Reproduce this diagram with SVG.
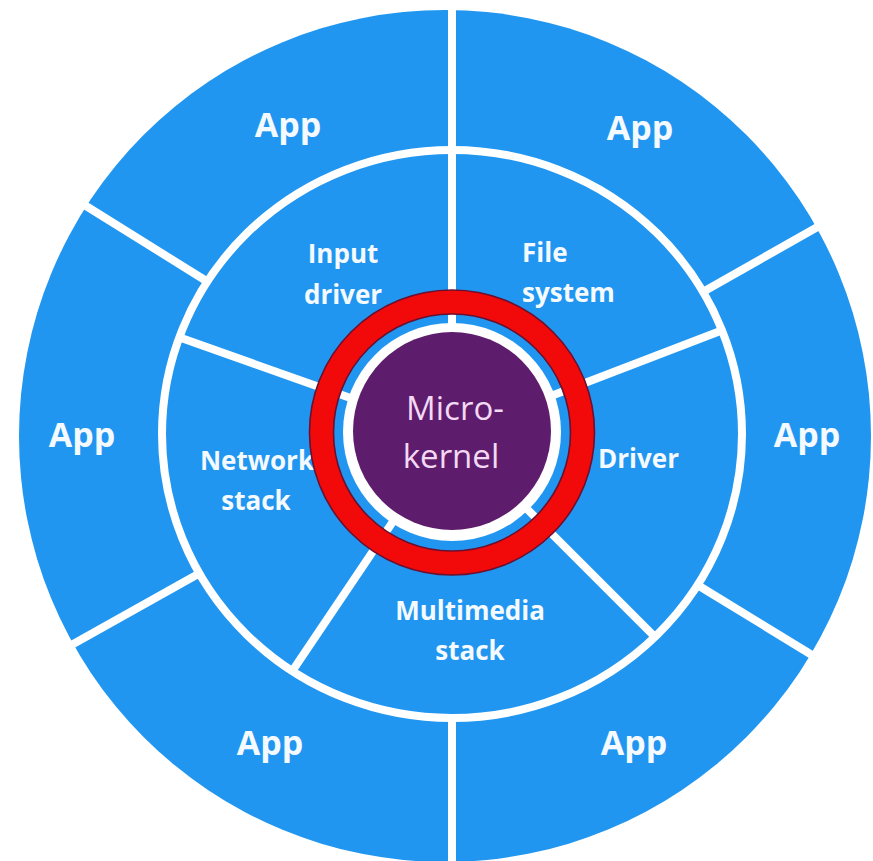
<svg xmlns="http://www.w3.org/2000/svg" width="873" height="861" viewBox="0 0 873 861">
  <style>
    .seg { fill: #2196F0; }
    .lbl { font-family: "Open Sans", "Liberation Sans", sans-serif; font-weight: bold; fill: #F4FAFF; }
    .app { font-size: 34px; text-anchor: middle; }
    .mid { font-size: 26px; }
    .c { text-anchor: middle; }
    .div { stroke: #FFFFFF; stroke-width: 8; fill: none; }
    .kern { font-family: "Open Sans", "Liberation Sans", sans-serif; font-size: 33px; fill: #F3D9F3; text-anchor: middle; }
  </style>
  <defs>
    <clipPath id="outerDisk"><circle cx="445" cy="436" r="426"/></clipPath>
    <clipPath id="innerDisk"><ellipse cx="452" cy="434" rx="291" ry="285"/></clipPath>
  </defs>
  <rect width="873" height="861" fill="#FFFFFF"/>

  <!-- outer ring: App segments -->
  <g id="app-top-right" clip-path="url(#outerDisk)">
    <path class="seg" d="M452,434 L452,-566 L1322.4,-58.4 Z"/>
    <text class="lbl app" x="640" y="140">App</text>
  </g>
  <g id="app-right" clip-path="url(#outerDisk)">
    <path class="seg" d="M452,434 L1322.4,-58.4 L1304.6,956.5 Z"/>
    <text class="lbl app" x="807" y="447">App</text>
  </g>
  <g id="app-bottom-right" clip-path="url(#outerDisk)">
    <path class="seg" d="M452,434 L1304.6,956.5 L452,1434 Z"/>
    <text class="lbl app" x="634" y="755">App</text>
  </g>
  <g id="app-bottom-left" clip-path="url(#outerDisk)">
    <path class="seg" d="M452,434 L452,1434 L-422.6,918.8 Z"/>
    <text class="lbl app" x="270" y="755">App</text>
  </g>
  <g id="app-left" clip-path="url(#outerDisk)">
    <path class="seg" d="M452,434 L-422.6,918.8 L-396,-95.9 Z"/>
    <text class="lbl app" x="82" y="447">App</text>
  </g>
  <g id="app-top-left" clip-path="url(#outerDisk)">
    <path class="seg" d="M452,434 L-396,-95.9 L452,-566 Z"/>
    <text class="lbl app" x="288" y="137">App</text>
  </g>

  <!-- middle ring: services -->
  <g id="file-system" clip-path="url(#innerDisk)">
    <path class="seg" d="M452,434 L452,-566 L1385.6,75.6 Z"/>
    <text class="lbl mid" x="522" y="262">File</text>
    <text class="lbl mid" x="522" y="302">system</text>
  </g>
  <g id="driver" clip-path="url(#innerDisk)">
    <path class="seg" d="M452,434 L1385.6,75.6 L1159.1,1141.1 Z"/>
    <text class="lbl mid" x="598" y="468">Driver</text>
  </g>
  <g id="multimedia-stack" clip-path="url(#innerDisk)">
    <path class="seg" d="M452,434 L1159.1,1141.1 L-107.2,1263 Z"/>
    <text class="lbl mid c" x="470" y="620">Multimedia</text>
    <text class="lbl mid c" x="470" y="660">stack</text>
  </g>
  <g id="network-stack" clip-path="url(#innerDisk)">
    <path class="seg" d="M452,434 L-107.2,1263 L-490.6,100.2 Z"/>
    <text class="lbl mid c" x="257" y="470">Network</text>
    <text class="lbl mid c" x="256" y="510">stack</text>
  </g>
  <g id="input-driver" clip-path="url(#innerDisk)">
    <path class="seg" d="M452,434 L-490.6,100.2 L452,-566 Z"/>
    <text class="lbl mid c" x="343" y="263">Input</text>
    <text class="lbl mid c" x="343" y="304">driver</text>
  </g>

  <!-- separators -->
  <g id="dividers">
    <ellipse class="div" cx="452" cy="434" rx="290" ry="284" stroke-width="9"/>
    <!-- outer ring separators -->
    <line class="div" x1="452" y1="150" x2="452" y2="-10"/>
    <line class="div" x1="702.8" y1="292" x2="844" y2="212"/>
    <line class="div" x1="697.5" y1="585" x2="843" y2="674"/>
    <line class="div" x1="452" y1="718" x2="452" y2="880"/>
    <line class="div" x1="200" y1="573" x2="50" y2="657"/>
    <line class="div" x1="208" y1="282" x2="70" y2="196"/>
    <!-- middle ring separators -->
    <line class="div" x1="452" y1="330" x2="452" y2="150"/>
    <line class="div" x1="549" y1="396.8" x2="721" y2="330.8"/>
    <line class="div" x1="525.5" y1="507.5" x2="654" y2="636"/>
    <line class="div" x1="394" y1="520" x2="293" y2="670"/>
    <line class="div" x1="354" y1="399.3" x2="177" y2="336.6"/>
  </g>

  <!-- microkernel -->
  <g id="microkernel">
    <circle cx="452" cy="432" r="109" fill="#FFFFFF"/>
    <circle cx="452" cy="431" r="99" fill="#5E1D6C"/>
    <circle cx="452" cy="432.5" r="130.5" fill="none" stroke="#F20A0A" stroke-width="24"/>
    <circle cx="452" cy="432.5" r="142.5" fill="none" stroke="#6A1030" stroke-width="1.6"/>
    <circle cx="452" cy="432.5" r="118.5" fill="none" stroke="#6A1030" stroke-width="1.6"/>
    <text class="kern" x="455" y="420">Micro-</text>
    <text class="kern" x="451" y="468">kernel</text>
  </g>
</svg>
